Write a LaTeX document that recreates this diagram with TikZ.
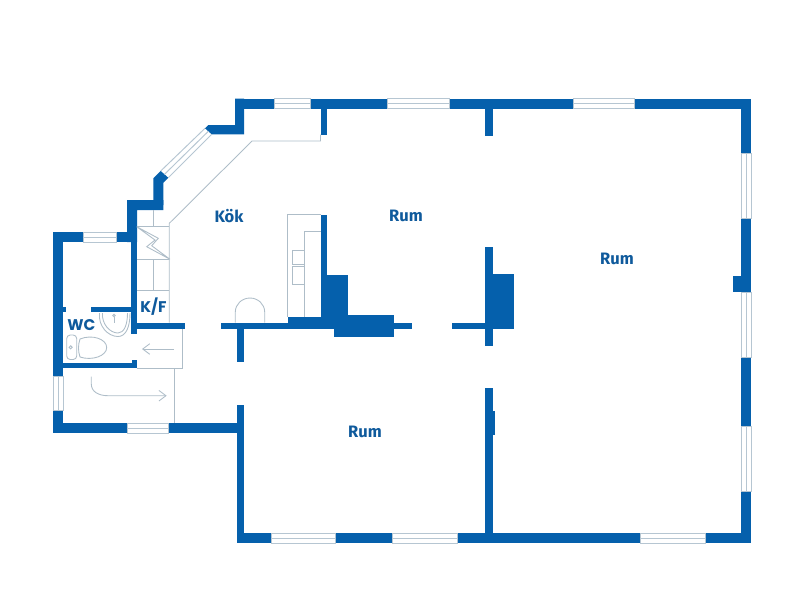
\documentclass[tikz,border=0pt]{standalone}
\usepackage{fontspec}
\setmainfont{Fira Sans}
\newfontfamily\widefont{Poppins}
\usetikzlibrary{arrows.meta}
\definecolor{wallblue}{HTML}{0560AC}
\definecolor{labelblue}{HTML}{0F5A9C}
\definecolor{winegrey}{HTML}{B6C6D2}
\definecolor{finegrey}{HTML}{AEBDC8}
\tikzset{
  wall/.style={fill=wallblue},
  pane/.style={draw=winegrey,line width=0.55pt},
  fine/.style={draw=finegrey,line width=0.5pt},
  roomlabel/.style={text=labelblue,font=\bfseries\fontsize{9.4}{11}\selectfont,inner sep=0pt},
  smalllabel/.style={text=labelblue,font=\widefont\bfseries\fontsize{8.8}{10}\selectfont,inner sep=0pt},
}
\begin{document}
\begin{tikzpicture}[x=0.02cm,y=-0.02cm]
\useasboundingbox (0,0) rectangle (800,600);

% outer walls
\fill[wall] (235,98.5) rectangle (274,108.5);
\fill[wall] (310,98.5) rectangle (387,108.5);
\fill[wall] (449,98.5) rectangle (573,108.5);
\fill[wall] (634,98.5) rectangle (751,108.5);
\fill[wall] (741,98.5) rectangle (751,153);
\fill[wall] (741,218) rectangle (751,292);
\fill[wall] (733,276) rectangle (741,292);
\fill[wall] (741,357) rectangle (751,426);
\fill[wall] (741,491) rectangle (751,543);
\fill[wall] (237,533) rectangle (271,543);
\fill[wall] (335,533) rectangle (392.5,543);
\fill[wall] (457,533) rectangle (640,543);
\fill[wall] (705,533) rectangle (751,543);
\fill[wall] (237,405) rectangle (244,543);
\fill[wall] (53,423) rectangle (127,433);
\fill[wall] (168,423) rectangle (237,433);
\fill[wall] (53,410) rectangle (63,433);
\fill[wall] (53,232) rectangle (63,376);
\fill[wall] (63,306.7) rectangle (65.5,312);
\fill[wall] (53,232) rectangle (83,242);
\fill[wall] (116.7,232) rectangle (137,242);

% stepped corner
\fill[wall] (127,200) -- (163.3,200) -- (163.3,210) -- (137,210) -- (137,242) -- (127,242) -- cycle;
\fill[wall] (153.3,178.3) -- (160.7,171) -- (168.3,177.7) -- (163.3,182.7) -- (163.3,205) -- (153.3,205) -- cycle;
\fill[wall] (235,98.5) -- (244,98.5) -- (244,134.3) -- (211.7,134.3) -- (205,128.3) -- (208.3,125) -- (235,125) -- cycle;

% inner walls
\fill[wall] (320.7,108) rectangle (327,134.7);
\fill[wall] (485.3,108) rectangle (492.7,135.7);
\fill[wall] (485.3,246.7) rectangle (492.7,346);
\fill[wall] (492.7,274.3) rectangle (514,329.3);
\fill[wall] (451.7,322.7) rectangle (486,329.3);
\fill[wall] (221,322.7) rectangle (411.7,329.3);
\fill[wall] (236.7,322.7) rectangle (244,362.3);
\fill[wall] (287.7,317.3) rectangle (321,323);
\fill[wall] (320.7,215.3) rectangle (327.3,323);
\fill[wall] (320.7,275.3) rectangle (348.3,323);
\fill[wall] (334,314.7) rectangle (393.7,337);
\fill[wall] (485.3,388.3) rectangle (492.7,534);
\fill[wall] (492.7,410.7) rectangle (494.7,435);

% wc walls
\fill[wall] (131.3,241) rectangle (136.7,334.3);
\fill[wall] (131.3,322.7) rectangle (185,329.3);
\fill[wall] (91,306.7) rectangle (131.5,312.3);
\fill[wall] (63,362.7) rectangle (136.7,368.3);
\fill[wall] (131.5,360.3) rectangle (136.7,363);

% windows
\foreach \xa/\xb/\yy in {274/310/98.5,387/449/98.5,573/634/98.5,271/335/533,392.5/457/533,640/705/533,127/168/423,83/116.7/232}{
  \draw[pane] (\xa,\yy) rectangle (\xb,\yy+10);
  \draw[pane] (\xa,\yy+5) -- (\xb,\yy+5);
}
\foreach \ya/\yb/\xx in {153/218/741,292/357/741,426/491/741,376/410/53}{
  \draw[pane] (\xx,\ya) rectangle (\xx+10,\yb);
  \draw[pane] (\xx+5,\ya) -- (\xx+5,\yb);
}
\draw[pane] (205,128.3) -- (160.7,171);
\draw[pane] (208.3,131.3) -- (164.5,174.3);
\draw[pane] (211.7,134.3) -- (168.3,177.7);

% kitchen
\draw[fine] (320.5,134.7) -- (320.5,141) -- (252,141) -- (169.3,223.3) -- (169.3,322.7);
\draw[fine] (153.3,210) -- (153.3,226.7);
\draw[fine] (137,226.7) -- (169.3,226.7);
\draw[fine] (136.7,226.7) -- (158.3,238.3) -- (151.7,245.7) -- (170,259.3) -- (146.7,246.7) -- (155,240) -- cycle;
\draw[fine] (137,259.3) -- (169.3,259.3);
\draw[fine] (153.3,259.3) -- (153.3,290);
\draw[fine] (137,290) -- (169.3,290);

% counter
\draw[fine] (320.7,214.3) -- (287.7,214.3) -- (287.7,317.3);
\draw[fine] (320.7,231.3) -- (304.3,231.3) -- (304.3,317.3);
\draw[fine] (304.3,250) rectangle (292,264.3);
\draw[fine] (304.3,266.7) rectangle (292,284);

% door
\draw[fine] (235.3,322.7) -- (235.3,312) arc[start angle=180,end angle=360,x radius=14.7,y radius=14] -- (264.7,322.7);

% hall
\draw[fine] (136.7,368.3) -- (182.3,368.3) -- (182.3,329.3);
\draw[fine] (174.7,368.3) -- (174.7,423);
\draw[fine,-{Straight Barb[length=4pt,width=6pt]}] (174,349) -- (142,349);
\draw[fine,-{Straight Barb[length=4pt,width=6pt]}] (91.3,376.7) -- (91.3,384) .. controls (91.3,392) and (99,395.7) .. (108,395.7) -- (166.7,395.7);

% wc
\draw[fine] (99.5,313) .. controls (98,326) and (108,336.5) .. (118,336.5) .. controls (126,336.5) and (130,327) .. (130,313);
\draw[fine] (102.5,313) .. controls (101.5,324) and (110,333) .. (118,333) .. controls (124,333) and (127.5,325) .. (127.5,313);
\draw[fine] (114,315.5) circle[radius=1.3];
\draw[fine] (114,317) -- (114,323);
\draw[fine,rounded corners=2pt] (66.7,335) rectangle (76.7,359.5);
\draw[fine] (70.7,347.3) circle[radius=1.6];
\draw[fine] (80,339) .. controls (92,334) and (106.7,339) .. (106.7,347.5) .. controls (106.7,356) and (92,361) .. (80,357) .. controls (78,351) and (78,345) .. (80,339) -- cycle;

% labels
\node[roomlabel] (kok) at (229,216) {Kök};
\node[roomlabel] (rumkitchen) at (406,216) {Rum};
\node[roomlabel] (rumeast) at (617,259) {Rum};
\node[roomlabel] (rumsouth) at (365,432) {Rum};
\node[smalllabel] (wc) at (81.5,325) {WC};
\node[smalllabel] (kf) at (153.5,306.5) {K/F};
\end{tikzpicture}
\end{document}
